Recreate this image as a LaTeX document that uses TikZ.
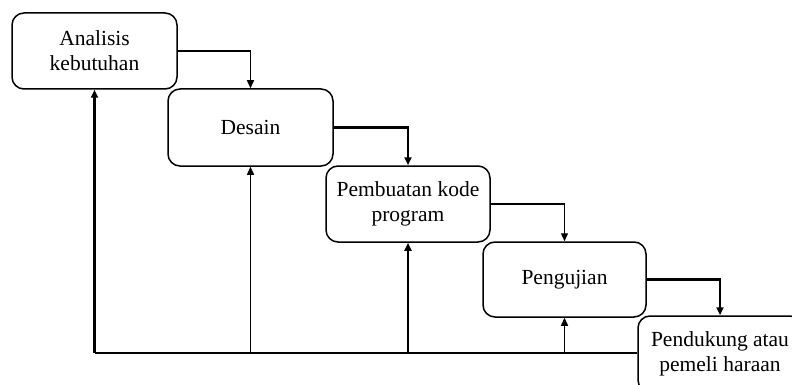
\documentclass[tikz,border=0pt]{standalone}
\usepackage{fontspec}
\setmainfont{Liberation Serif}
\usetikzlibrary{arrows.meta}
\begin{document}
\begin{tikzpicture}[x=1pt,y=-1pt,
  phase/.style={draw,line width=1.5pt,rounded corners=12pt,align=center,
    inner sep=0pt,font=\fontsize{21.5}{25}\selectfont},
  tip/.style={-{Triangle[length=8pt,width=7pt]}},
  flowthin/.style={tip,line width=1.4pt},
  flowthick/.style={tip,line width=2.6pt},
  baseline/.style={line width=1.7pt}]
  \useasboundingbox (0,0) rectangle (792,385);
  \clip (0,0) rectangle (792,385);

  % the five phases, stepping down to the right
  \node[phase,minimum width=165pt,minimum height=76pt] (a) at (94.5,51) {Analisis\\kebutuhan};
  \node[phase,minimum width=165pt,minimum height=77pt] (b) at (250.5,127.5) {Desain};
  \node[phase,minimum width=164pt,minimum height=76pt] (c) at (408,204) {Pembuatan kode\\program};
  \node[phase,minimum width=163pt,minimum height=75pt] (d) at (564.5,279.5) {Pengujian};
  \node[phase,minimum width=164pt,minimum height=76pt] (e) at (720,354) {Pendukung atau\\pemeli haraan};

  % forward flow between phases
  \draw[flowthin]  (a.east) -| (b.north);
  \draw[flowthick] (b.east) -| (c.north);
  \draw[flowthin]  (c.east) -| (d.north);
  \draw[flowthick] (d.east) -| (e.north);

  % feedback from the last phase back to every earlier one
  \coordinate (fa) at (a.south |- 0,353);
  \coordinate (fb) at (b.south |- 0,353);
  \coordinate (fc) at (c.south |- 0,353);
  \coordinate (fd) at (d.south |- 0,353);
  \draw[baseline] (fa) -- (e.west |- fa);
  \draw[flowthick] (fa) -- (a.south);
  \draw[flowthin]  (fb) -- (b.south);
  \draw[flowthick] (fc) -- (c.south);
  \draw[flowthin]  (fd) -- (d.south);
\end{tikzpicture}
\end{document}
